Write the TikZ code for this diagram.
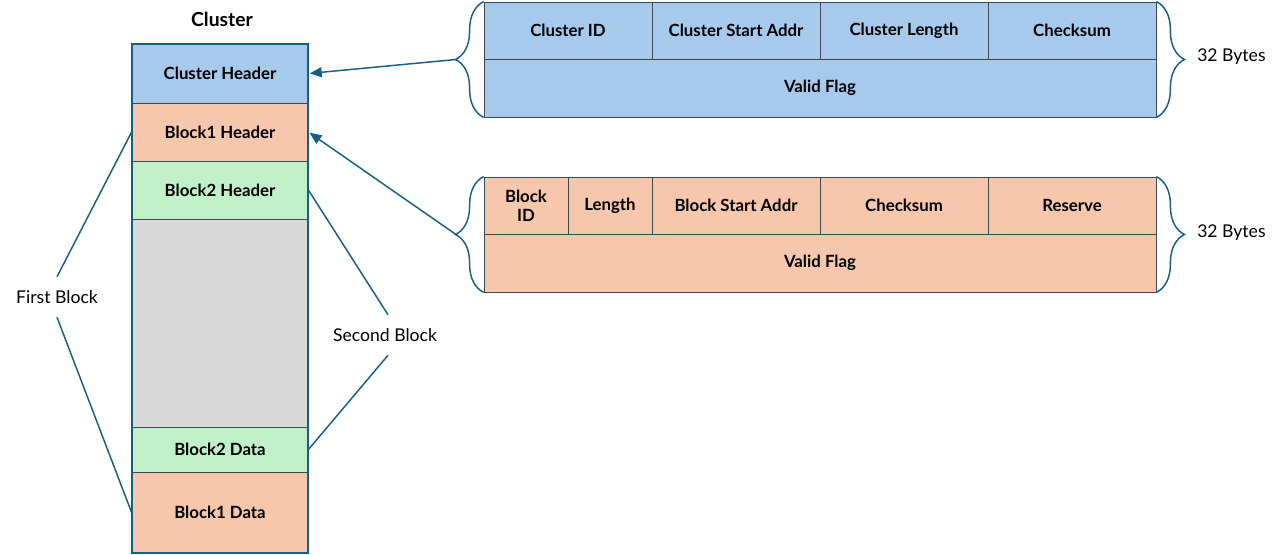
\documentclass[tikz,border=0pt]{standalone}
\usepackage{fontspec}
\setmainfont{Lato}
\usetikzlibrary{arrows.meta,decorations.pathreplacing}
\definecolor{cblue}{HTML}{A6C9EC}
\definecolor{corange}{HTML}{F6C6AD}
\definecolor{cgreen}{HTML}{C1F0C8}
\definecolor{cgray}{HTML}{D9D9D9}
\definecolor{cline}{HTML}{156082}
\definecolor{cedge}{HTML}{3A4A55}
\def\px{0.75pt}
\tikzset{
  cell/.style={draw=cedge, line width=0.6pt, rectangle, inner sep=0pt, align=center,
    font=\fontsize{12.6}{14}\selectfont\bfseries, text=black},
  bcell/.style={cell, fill=cblue},
  ocell/.style={cell, fill=corange},
  gcell/.style={cell, fill=cgreen},
  grcell/.style={cell, fill=cgray},
  conn/.style={draw=cline, line width=1.1pt},
  arr/.style={conn, -{Triangle[length=9pt,width=7.5pt]}},
  bracestyle/.style={draw=cline, line width=1.1pt, decorate, decoration={brace, amplitude=21pt}},
  lbl/.style={font=\fontsize{13.2}{15}\selectfont, text=black, inner sep=0pt},
}
\begin{document}
\begin{tikzpicture}[x=0.75pt, y=-0.75pt]
\useasboundingbox (0,0) rectangle (1280,554);
% left column
\node[lbl, font=\fontsize{14.5}{16}\selectfont\bfseries] (title) at (222,19) {Cluster};
\node[bcell, minimum width=176*\px, minimum height=59*\px] (CH) at (220,73.5) {Cluster Header};
\node[ocell, minimum width=176*\px, minimum height=58*\px] (B1H) at (220,132) {Block1 Header};
\node[gcell, minimum width=176*\px, minimum height=58*\px] (B2H) at (220,190) {Block2 Header};
\node[grcell, minimum width=176*\px, minimum height=208*\px] (GR) at (220,323) {};
\node[gcell, minimum width=176*\px, minimum height=45*\px] (B2D) at (220,449.5) {Block2 Data};
\node[ocell, minimum width=176*\px, minimum height=81*\px] (B1D) at (220,512.5) {Block1 Data};
\draw[conn, line width=1.5pt] (CH.north west) rectangle (B1D.south east);
% top table
\node[bcell, minimum width=168*\px, minimum height=57*\px] (CID) at (568,30.5) {Cluster ID};
\node[bcell, minimum width=168*\px, minimum height=57*\px] (CSA) at (736,30.5) {Cluster Start Addr};
\node[bcell, minimum width=168*\px, minimum height=57*\px] (CLN) at (904,30.5) {Cluster Length};
\node[bcell, minimum width=168*\px, minimum height=57*\px] (CCK) at (1072,30.5) {Checksum};
\node[bcell, minimum width=672*\px, minimum height=58*\px] (CVF) at (820,88) {Valid Flag};
% middle table
\node[ocell, minimum width=84*\px, minimum height=57*\px] (BID) at (526,205.5) {Block\\ID};
\node[ocell, minimum width=84*\px, minimum height=57*\px] (BLN) at (610,205.5) {Length};
\node[ocell, minimum width=168*\px, minimum height=57*\px] (BSA) at (736,205.5) {Block Start Addr};
\node[ocell, minimum width=168*\px, minimum height=57*\px] (BCK) at (904,205.5) {Checksum};
\node[ocell, minimum width=168*\px, minimum height=57*\px] (BRS) at (1072,205.5) {Reserve};
\node[ocell, minimum width=672*\px, minimum height=58*\px] (BVF) at (820,263) {Valid Flag};
% braces
\draw[bracestyle] (CVF.south west) -- (CID.north west);
\draw[bracestyle] (CCK.north east) -- (CVF.south east);
\draw[bracestyle] (BVF.south west) -- (BID.north west);
\draw[bracestyle] (BRS.north east) -- (BVF.south east);
\coordinate (TL) at (456,59.5);
\coordinate (ML) at (456,234.5);
\node[lbl, anchor=west] (TB) at (1197,57) {32 Bytes};
\node[lbl, anchor=west] (MB) at (1197,233) {32 Bytes};
% arrows
\draw[arr, shorten >=1pt] (TL) -- (CH.east);
\draw[arr, shorten >=1pt] (ML) -- (B1H.east);
% labels
\node[lbl, minimum height=40*\px] (FB) at (57,297) {First Block};
\node[lbl, minimum height=40*\px] (SB) at (385,335) {Second Block};
\draw[conn] (B1H.west) -- (FB.north);
\draw[conn] (FB.south) -- (B1D.west);
\draw[conn] (B2H.east) -- ([xshift=3*\px]SB.north);
\draw[conn] ([xshift=3*\px]SB.south) -- (B2D.east);
\end{tikzpicture}
\end{document}
